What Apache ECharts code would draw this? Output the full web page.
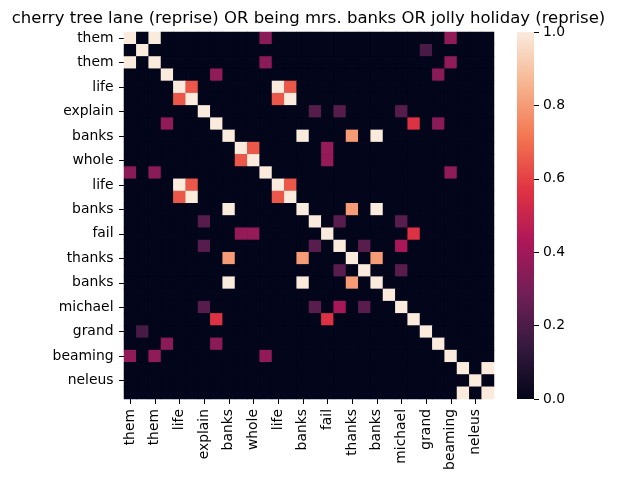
<!DOCTYPE html>
<html>
<head>
<meta charset="utf-8">
<script src="https://cdn.jsdelivr.net/npm/echarts@6.0.0/dist/echarts.min.js"></script>
<style>
  html, body { margin: 0; padding: 0; background: #fff; }
  #chart { width: 617px; height: 482px; }
</style>
</head>
<body>
<div id="chart"></div>
<script>
// tick labels shown on both axes (every other row/column is labelled)
const shownLabels = ['them', 'them', 'life', 'explain', 'banks', 'whole', 'life', 'banks',
    'fail', 'thanks', 'banks', 'michael', 'grand', 'beaming', 'neleus'];
const size = 30;

// cells off the diagonal, upper triangle: [row, col, value]; matrix is symmetric
const upperCells = [
    [0, 2, 1], [0, 11, 0.35], [0, 26, 0.36],
    [1, 24, 0.19],
    [2, 11, 0.35], [2, 26, 0.36],
    [3, 7, 0.36], [3, 25, 0.35],
    [4, 5, 0.65], [4, 12, 1], [4, 13, 0.65],
    [5, 12, 0.65], [5, 13, 1],
    [6, 15, 0.22], [6, 17, 0.22], [6, 22, 0.22],
    [7, 23, 0.56], [7, 25, 0.35],
    [8, 14, 1], [8, 18, 0.8], [8, 20, 1],
    [9, 10, 0.65], [9, 16, 0.37],
    [10, 16, 0.37],
    [11, 26, 0.36],
    [12, 13, 0.65],
    [14, 18, 0.8], [14, 20, 1],
    [15, 17, 0.23], [15, 22, 0.23],
    [16, 23, 0.56],
    [17, 19, 0.23], [17, 22, 0.42],
    [18, 20, 0.8],
    [19, 22, 0.23],
    [27, 29, 1]
];
const diagonalValue = 1;

// rocket colormap stops
const rocket = ['#03051a', '#35193e', '#701f57', '#ad1759', '#e13342', '#f37651', '#f6b48f', '#faebdd'];
const colorbarTicks = [0, 0.2, 0.4, 0.6, 0.8, 1.0];

// categories: labels on even positions, blank on odd ones
const categories = [];
for (let i = 0; i < size; i++) {
    categories.push(i % 2 === 0 ? shownLabels[i / 2] : '');
}

// full matrix
const matrix = [];
for (let r = 0; r < size; r++) {
    matrix.push(new Array(size).fill(0));
    matrix[r][r] = diagonalValue;
}
upperCells.forEach(([r, c, v]) => {
    matrix[r][c] = v;
    matrix[c][r] = v;
});
const heatData = [];
for (let r = 0; r < size; r++) {
    for (let c = 0; c < size; c++) {
        heatData.push([c, r, matrix[r][c]]);
    }
}

const font = 'DejaVu Sans';
const tickFont = 13.9;

let myChart = echarts.init(document.getElementById('chart'), null, { renderer: 'canvas' });
myChart.setOption({
    animation: false,
    backgroundColor: '#fff',
    title: {
        text: 'cherry tree lane (reprise) OR being mrs. banks OR jolly holiday (reprise)',
        left: 'center',
        top: 5,
        textStyle: { fontFamily: font, fontSize: 16.5, fontWeight: 'normal', color: '#000' }
    },
    grid: [
        // dark backing hides seams between cells
        { left: 124, top: 32, width: 370, height: 367, show: true, backgroundColor: rocket[0], borderWidth: 0 },
        { left: 517, top: 32, width: 17, height: 367 }
    ],
    xAxis: [
        {
            type: 'category',
            gridIndex: 0,
            data: categories,
            axisLine: { show: false },
            splitLine: { show: false },
            axisTick: { show: true, length: 5, alignWithLabel: true, interval: 1, lineStyle: { color: '#000' } },
            axisLabel: {
                interval: 1, rotate: 90, margin: 10,
                fontFamily: font, fontSize: tickFont, color: '#000'
            }
        },
        {
            type: 'category',
            gridIndex: 1,
            data: [''],
            show: false
        }
    ],
    yAxis: [
        {
            type: 'category',
            gridIndex: 0,
            inverse: true,
            data: categories,
            axisLine: { show: false },
            splitLine: { show: false },
            axisTick: { show: true, length: 5, alignWithLabel: true, interval: 1, lineStyle: { color: '#000' } },
            axisLabel: { interval: 1, margin: 10.5, fontFamily: font, fontSize: tickFont, color: '#000' }
        },
        {
            type: 'value',
            gridIndex: 1,
            position: 'right',
            min: 0,
            max: 1,
            interval: 0.2,
            axisLine: { show: false },
            splitLine: { show: false },
            axisTick: { show: true, length: 5, lineStyle: { color: '#000' } },
            axisLabel: {
                margin: 9, fontFamily: font, fontSize: tickFont, color: '#000',
                formatter: v => v.toFixed(1)
            }
        }
    ],
    visualMap: {
        show: false,
        min: 0,
        max: 1,
        dimension: 2,
        seriesIndex: 0,
        inRange: { color: rocket }
    },
    series: [
        {
            type: 'heatmap',
            xAxisIndex: 0,
            yAxisIndex: 0,
            data: heatData,
            itemStyle: { borderWidth: 0 },
            emphasis: { disabled: true }
        },
        {
            // colorbar
            type: 'bar',
            xAxisIndex: 1,
            yAxisIndex: 1,
            data: [colorbarTicks[colorbarTicks.length - 1]],
            barWidth: '100%',
            silent: true,
            itemStyle: {
                color: new echarts.graphic.LinearGradient(0, 1, 0, 0,
                    rocket.map((c, i) => ({ offset: i / (rocket.length - 1), color: c })))
            }
        }
    ]
});
</script>
</body>
</html>
